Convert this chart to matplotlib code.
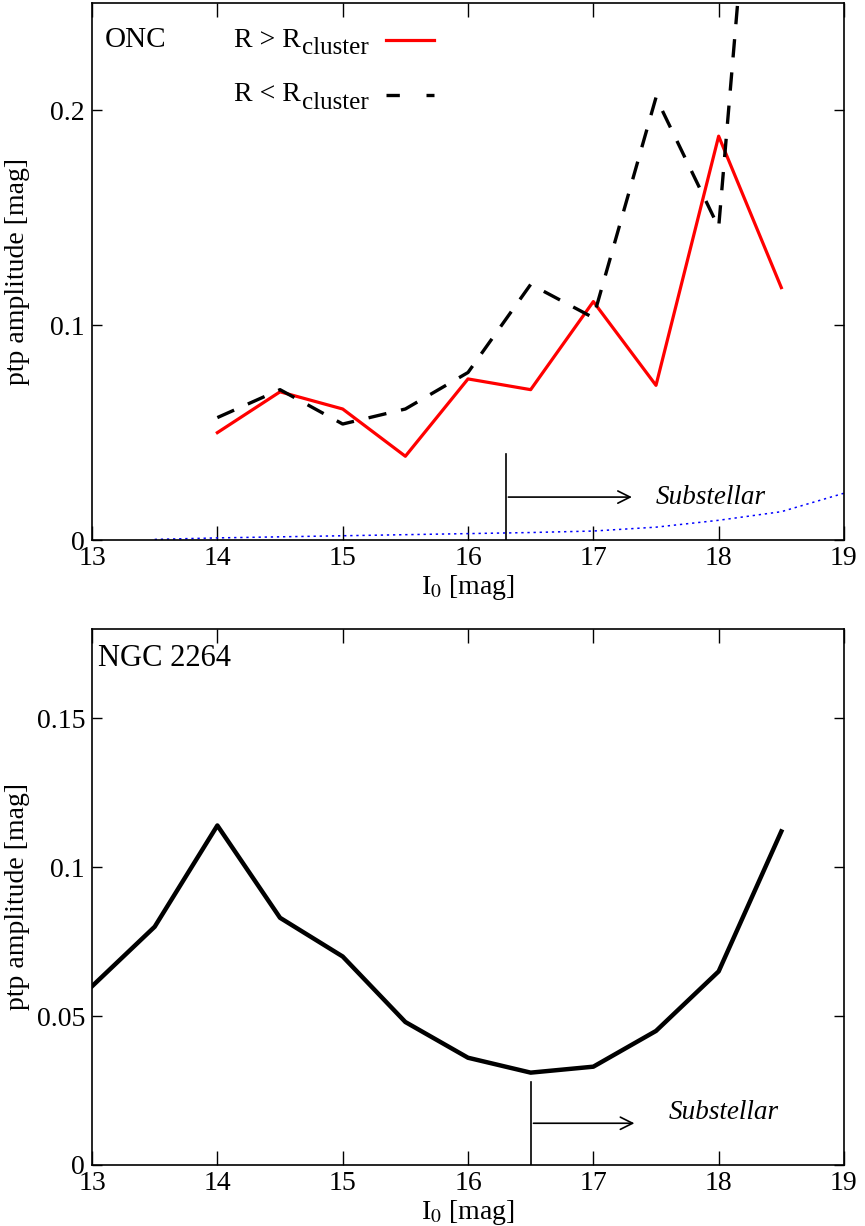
import matplotlib
matplotlib.use('Agg')
import matplotlib.pyplot as plt
from matplotlib.ticker import FixedLocator

plt.rcParams['font.family'] = ['Liberation Serif', 'DejaVu Serif']
plt.rcParams['mathtext.fontset'] = 'stix'

# ONC panel data
onc_mag = [14, 14.5, 15, 15.5, 16, 16.5, 17, 17.5, 18, 18.5]
onc_outer = [0.050, 0.069, 0.061, 0.039, 0.075, 0.070, 0.111, 0.072, 0.188, 0.1175]
onc_inner = [0.057, 0.070, 0.054, 0.061, 0.078, 0.119, 0.1035, 0.206, 0.1455, 0.49]
noise_mag = [13.5, 14, 14.5, 15, 15.5, 16, 16.5, 17, 17.5, 18, 18.5, 19]
noise_amp = [0.0003, 0.001, 0.0015, 0.002, 0.0025, 0.003, 0.0035, 0.0042, 0.006, 0.0092, 0.0132, 0.0218]

# NGC 2264 panel data
ngc_mag = [13, 13.5, 14, 14.5, 15, 15.5, 16, 16.5, 17, 17.5, 18, 18.5]
ngc_amp = [0.060, 0.080, 0.114, 0.083, 0.070, 0.048, 0.036, 0.031, 0.033, 0.045, 0.065, 0.112]

xticks = [13, 14, 15, 16, 17, 18, 19]
onc_yticks = [0, 0.1, 0.2]
onc_ylabels = ['0', '0.1', '0.2']
ngc_yticks = [0, 0.05, 0.1, 0.15]
ngc_ylabels = ['0', '0.05', '0.1', '0.15']

onc_limit = 16.3
ngc_limit = 16.5

fig = plt.figure(figsize=(8.65, 12.26), dpi=100)
ax1 = fig.add_axes([0.1064, 0.5595, 0.8693, 0.4381])
ax2 = fig.add_axes([0.1064, 0.0498, 0.8693, 0.4372])


def style_axes(ax, yticks, ylabels, ymax):
    ax.set_xlim(13, 19)
    ax.set_ylim(0, ymax)
    ax.xaxis.set_major_locator(FixedLocator(xticks))
    ax.set_xticklabels([str(t) for t in xticks])
    ax.set_yticks(yticks)
    ax.set_yticklabels(ylabels)
    ax.tick_params(direction='in', top=True, right=True, labelsize=20, width=1)
    ax.tick_params(axis='x', length=10, pad=4)
    ax.tick_params(axis='y', length=7, pad=5)
    for s in ax.spines.values():
        s.set_linewidth(1.2)
    ax.set_xlabel(r'I$_0$ [mag]', fontsize=20, labelpad=2)
    ax.set_ylabel('ptp amplitude [mag]', fontsize=20)
    ax.yaxis.set_label_coords(-0.082, 0.5)


def legend_row(ax, y, op, color, **line_kw):
    # "R > R" followed by a larger-than-mathtext subscript, then the line sample
    t = ax.text(0.1885, y, 'R ' + op + ' R', transform=ax.transAxes, fontsize=20, va='center')
    ax.annotate('cluster', xy=(1, 0), xycoords=t, xytext=(1, -5), textcoords='offset points',
                fontsize=18, va='bottom', ha='left')
    ax.plot([0.391, 0.455], [y, y], transform=ax.transAxes, color=color, clip_on=False, **line_kw)


# --- top panel: ONC
ax1.plot(noise_mag, noise_amp, color='blue', lw=1.1, ls=(0, (1.5, 2.5)))
ax1.plot(onc_mag, onc_outer, color='red', lw=2.3)
ax1.plot(onc_mag, onc_inner, color='black', lw=2.4, dashes=(5.5, 4.5))
style_axes(ax1, onc_yticks, onc_ylabels, 0.25)
ax1.text(0.017, 0.931, 'ONC', transform=ax1.transAxes, fontsize=21, va='center')
legend_row(ax1, 0.931, '>', 'red', lw=2.3)
legend_row(ax1, 0.829, '<', 'black', lw=2.4, dashes=(4.0, 8.0))
ax1.plot([onc_limit, onc_limit], [0, 0.04], color='black', lw=1.2)
ax1.annotate('', xy=(17.33, 0.020), xytext=(onc_limit, 0.020),
             arrowprops=dict(arrowstyle='->', color='black', lw=1.2, mutation_scale=22))
ax1.text(17.5, 0.020, 'Substellar', style='italic', fontsize=19.5, va='center')

# --- bottom panel: NGC 2264
ax2.plot(ngc_mag, ngc_amp, color='black', lw=3.2)
style_axes(ax2, ngc_yticks, ngc_ylabels, 0.18)
ax2.text(0.008, 0.944, 'NGC 2264', transform=ax2.transAxes, fontsize=22, va='center')
ax2.plot([ngc_limit, ngc_limit], [0, 0.028], color='black', lw=1.2)
ax2.annotate('', xy=(17.35, 0.014), xytext=(ngc_limit, 0.014),
             arrowprops=dict(arrowstyle='->', color='black', lw=1.2, mutation_scale=22))
ax2.text(17.6, 0.0175, 'Substellar', style='italic', fontsize=19.5, va='center')

fig.savefig('out.png', dpi=100)
